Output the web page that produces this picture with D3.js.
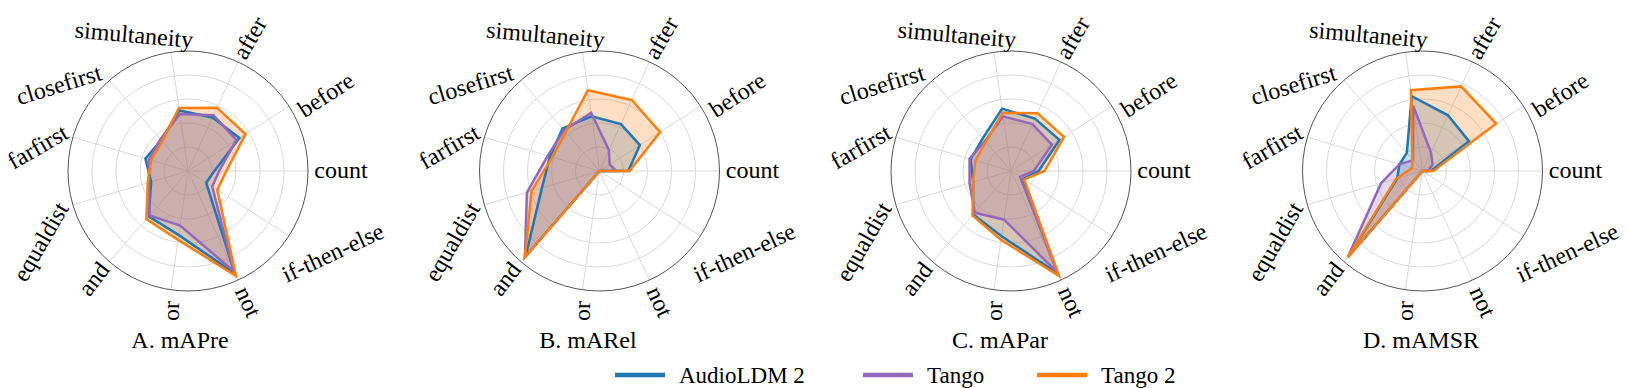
<!DOCTYPE html>
<html>
<head>
<meta charset="utf-8">
<script src="https://cdn.jsdelivr.net/npm/d3@7"></script>
<style>
body{margin:0;background:#fff;}
</style>
</head>
<body>
<div id="chart"></div>
<script>
// axes, going counter-clockwise from 3 o'clock
var categories=['count','before','after','simultaneity','closefirst','farfirst','equaldist','and','or','not','if-then-else'];
var panelTitles=['A. mAPre','B. mARel','C. mAPar','D. mAMSR'];
var models=['AudioLDM 2','Tango','Tango 2'];
var colors=['#1f77b4','#9467bd','#ff7f0e'];
var ringTicks=[0.2,0.4,0.6,0.8,1.0];

// values (fraction of outer ring)
var mAPreAudioLDM2=[0.22,0.51,0.49,0.51,0.34,0.37,0.32,0.50,0.54,0.94,0.18];
var mAPreTango    =[0.26,0.48,0.51,0.48,0.35,0.34,0.34,0.49,0.46,0.92,0.24];
var mAPreTango2   =[0.32,0.57,0.58,0.53,0.33,0.32,0.35,0.53,0.58,0.96,0.29];

var mARelAudioLDM2=[0.24,0.40,0.43,0.46,0.47,0.43,0.50,0.94,0,0,0];
var mARelTango    =[0.14,0.10,0.19,0.49,0.45,0.45,0.63,0.95,0,0,0];
var mARelTango2   =[0.25,0.60,0.65,0.68,0.43,0.41,0.59,0.95,0,0,0];

var mAParAudioLDM2=[0.23,0.48,0.48,0.525,0.36,0.35,0.33,0.48,0.55,0.94,0.12];
var mAParTango    =[0.19,0.405,0.43,0.46,0.33,0.36,0.36,0.46,0.41,0.93,0.09];
var mAParTango2   =[0.28,0.525,0.53,0.49,0.32,0.31,0.33,0.49,0.58,0.96,0.13];

var mAMSRAudioLDM2=[0.07,0.46,0.51,0.63,0.20,0.20,0.22,0.94,0,0,0];
var mAMSRTango    =[0.05,0.10,0.17,0.55,0.12,0.20,0.36,0.95,0,0,0];
var mAMSRTango2   =[0.09,0.73,0.775,0.68,0.13,0.09,0.23,0.95,0,0,0];

var panelSeries=[
  [mAPreAudioLDM2,mAPreTango,mAPreTango2],
  [mARelAudioLDM2,mARelTango,mARelTango2],
  [mAParAudioLDM2,mAParTango,mAParTango2],
  [mAMSRAudioLDM2,mAMSRTango,mAMSRTango2]
];

// layout
var W=1628,H=388,R=120,cy=171;
var FONT="'Liberation Serif', Tinos, 'Times New Roman', 'DejaVu Serif', serif";
var panelX=[188,599.5,1011,1422.5];
var titleX=[180,588,1000,1421];
var labelOffset=[[153,-1],[138,-76],[62,-133],[-54,-136],[-129,-86],[-150,-24],[-147,71],[-94,108],[-17,140],[60,131],[145,82]];
var labelRotate=[0,33,60,-5,17,30,60,52,90,-65,25];
var legendX=[615,863,1037];

var svg=d3.select('#chart').append('svg').attr('width',W).attr('height',H)
  .style('font-family',FONT);

var theta=d3.scaleLinear().domain([0,categories.length]).range([0,2*Math.PI]);
var r=d3.scaleLinear().domain([0,1]).range([0,R]);

// d3 radial angles run clockwise from 12 o'clock
var radial=d3.lineRadial()
  .angle(function(d,i){return Math.PI/2-theta(i);})
  .radius(function(d){return r(d);})
  .curve(d3.curveLinearClosed);

panelSeries.forEach(function(series,p){
  var g=svg.append('g').attr('transform','translate('+panelX[p]+','+cy+')');

  g.selectAll('circle.ring').data(ringTicks.slice(0,-1)).enter().append('circle')
    .attr('r',function(d){return r(d);})
    .attr('fill','none').attr('stroke','#d9d9d9').attr('stroke-width',1);

  g.selectAll('line.spoke').data(categories).enter().append('line')
    .attr('x1',0).attr('y1',0)
    .attr('x2',function(d,i){return r(1)*Math.cos(theta(i));})
    .attr('y2',function(d,i){return -r(1)*Math.sin(theta(i));})
    .attr('stroke','#d9d9d9').attr('stroke-width',1);

  g.append('circle').attr('r',r(1)).attr('fill','none').attr('stroke','#555').attr('stroke-width',1);

  series.forEach(function(vals,s){
    g.append('path').attr('d',radial(vals))
      .attr('fill',colors[s]).attr('fill-opacity',0.25).attr('stroke','none');
  });
  series.forEach(function(vals,s){
    g.append('path').attr('d',radial(vals))
      .attr('fill','none').attr('stroke',colors[s]).attr('stroke-width',2.5)
      .attr('stroke-linejoin','miter');
  });

  g.selectAll('text.cat').data(categories).enter().append('text')
    .attr('font-family',FONT)
    .attr('text-anchor','middle').attr('dy','0.32em')
    .attr('font-size',24)
    .attr('transform',function(d,i){
      return 'translate('+labelOffset[i][0]+','+labelOffset[i][1]+') rotate('+(-labelRotate[i])+')';
    })
    .text(function(d){return d;});

  svg.append('text').attr('x',titleX[p]).attr('y',348)
    .attr('font-family',FONT)
    .attr('text-anchor','middle').attr('font-size',24).text(panelTitles[p]);
});

// legend
models.forEach(function(m,i){
  svg.append('line').attr('x1',legendX[i]).attr('x2',legendX[i]+50)
    .attr('y1',375).attr('y2',375)
    .attr('stroke',colors[i]).attr('stroke-width',4.5);
  svg.append('text').attr('x',legendX[i]+64).attr('y',383)
    .attr('font-family',FONT)
    .attr('font-size',23).text(m);
});
</script>
</body>
</html>
